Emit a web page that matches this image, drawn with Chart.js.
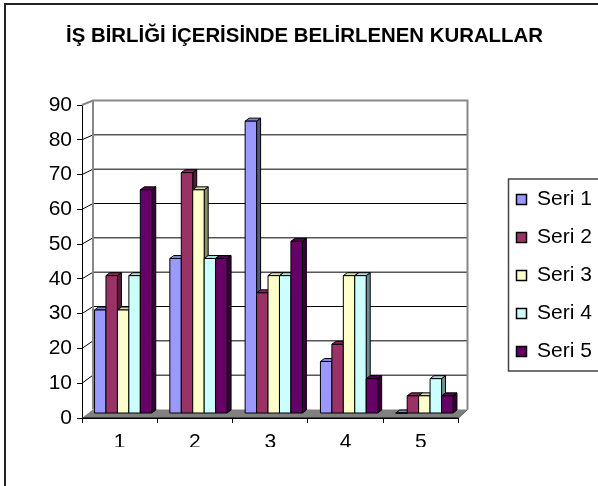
<!DOCTYPE html>
<html>
<head>
<meta charset="utf-8">
<script src="https://cdn.jsdelivr.net/npm/chart.js@4/dist/chart.umd.min.js"></script>
<style>
  body { margin: 0; background: #fff; }
  canvas { display: block; }
</style>
</head>
<body>
<canvas id="rulesChart" width="598" height="486"></canvas>
<script>
    // Chart data
    const categories = ['1', '2', '3', '4', '5'];
    const seriesNames = ['Seri 1', 'Seri 2', 'Seri 3', 'Seri 4', 'Seri 5'];
    const seri1 = [30, 45, 85, 15, 0];
    const seri2 = [40, 70, 35, 20, 5];
    const seri3 = [30, 65, 40, 40, 5];
    const seri4 = [40, 45, 40, 40, 10];
    const seri5 = [65, 45, 50, 10, 5];
    const yMax = 90;
    const yStep = 10;
    const colors = ['#9999FF', '#993366', '#FFFFCC', '#CCFFFF', '#660066'];

    Chart.defaults.font.family = "'Liberation Sans', Arial, sans-serif";
    Chart.defaults.color = '#000';

    // bars stand a little behind the front axis, so they get their own value scale
    const BAR_MIN = -1.456;
    const BAR_MAX = 89.709;
    const BAR_SHIFT = 3.5;   // bar plane offset to the right of the front axis
    const BAR_DX = 4;        // bar depth
    const BAR_DY = 3;
    const WALL_DX = 11;      // back wall offset
    const WALL_DY = 3.5;

    function shade(hex, f) {
        const n = parseInt(hex.slice(1), 16);
        const r = Math.round(((n >> 16) & 255) * f);
        const g = Math.round(((n >> 8) & 255) * f);
        const b = Math.round((n & 255) * f);
        return `rgb(${r},${g},${b})`;
    }

    function poly(ctx, pts, fill, stroke, lw) {
        ctx.beginPath();
        ctx.moveTo(pts[0][0], pts[0][1]);
        for (let i = 1; i < pts.length; i++) ctx.lineTo(pts[i][0], pts[i][1]);
        ctx.closePath();
        if (fill) { ctx.fillStyle = fill; ctx.fill(); }
        if (stroke) { ctx.strokeStyle = stroke; ctx.lineWidth = lw || 1; ctx.stroke(); }
    }

    // back wall, floor and 3D bars
    const box3d = {
        id: 'box3d',
        beforeDatasetsDraw(chart) {
            const ctx = chart.ctx;
            const xs = chart.scales.x;
            const yf = chart.scales.y;
            const yb = chart.scales.yBar;
            const back = v => yb.getPixelForValue(v) - WALL_DY;
            const bl = xs.left + WALL_DX;
            const br = xs.right + 9;

            ctx.save();
            // wall
            ctx.fillStyle = '#fff';
            ctx.fillRect(bl, back(yMax), br - bl, back(0) - back(yMax));
            ctx.lineWidth = 1;
            ctx.strokeStyle = '#000';
            for (let v = yStep; v < yMax; v += yStep) {
                ctx.beginPath();
                ctx.moveTo(xs.left, yf.getPixelForValue(v));
                ctx.lineTo(bl, back(v));
                ctx.lineTo(br, back(v));
                ctx.stroke();
            }
            ctx.strokeStyle = '#888';
            ctx.lineWidth = 2;
            ctx.beginPath();
            ctx.moveTo(xs.left, yf.getPixelForValue(yMax));
            ctx.lineTo(bl, back(yMax));
            ctx.lineTo(br, back(yMax));
            ctx.lineTo(br, back(0));
            ctx.moveTo(bl, back(yMax));
            ctx.lineTo(bl, back(0));
            ctx.stroke();

            // floor
            const f0 = yf.getPixelForValue(0);
            poly(ctx, [[xs.left, f0], [xs.right, f0], [br, back(0)], [bl, back(0)]], '#808080');
            ctx.strokeStyle = '#555';
            ctx.lineWidth = 1;
            ctx.beginPath();
            ctx.moveTo(xs.right, f0);
            ctx.lineTo(br, back(0));
            ctx.stroke();
            ctx.strokeStyle = '#000';
            ctx.beginPath();
            ctx.moveTo(xs.left, f0);
            ctx.lineTo(xs.right, f0);
            ctx.stroke();

            // bars, left to right so each one covers the side of the previous
            ctx.lineJoin = 'round';
            for (let j = 0; j < categories.length; j++) {
                chart.data.datasets.forEach((ds, i) => {
                    const el = chart.getDatasetMeta(i).data[j];
                    const p = el.getProps(['x', 'y', 'base', 'width'], true);
                    const l = p.x - p.width / 2 + BAR_SHIFT;
                    const r = p.x + p.width / 2 + BAR_SHIFT;
                    const t = p.y;
                    const b = p.base;
                    const c = colors[i];
                    poly(ctx, [[r, t], [r + BAR_DX, t - BAR_DY], [r + BAR_DX, b - BAR_DY], [r, b]], shade(c, 0.55), '#000', 1);
                    poly(ctx, [[l, t], [l + BAR_DX, t - BAR_DY], [r + BAR_DX, t - BAR_DY], [r, t]], shade(c, 0.85), '#000', 1);
                    poly(ctx, [[l, t], [r, t], [r, b], [l, b]], c, '#000', 1);
                });
            }
            ctx.restore();
            return false;
        },
        afterDraw(chart) {
            const ctx = chart.ctx;
            const hb = chart.legend.legendHitBoxes;
            ctx.save();
            // legend frame
            const first = hb[0];
            const last = hb[hb.length - 1];
            const top = first.top - 10;
            const bottom = last.top + last.height + 9;
            ctx.strokeStyle = '#444';
            ctx.lineWidth = 1.5;
            ctx.strokeRect(first.left - 8, top, 700, bottom - top);
            // outer frame
            ctx.strokeStyle = '#222';
            ctx.lineWidth = 2;
            ctx.strokeRect(5, 4, 700, 700);
            ctx.restore();
        }
    };

    const rulesCtx = document.getElementById('rulesChart').getContext('2d');
    new Chart(rulesCtx, {
        type: 'bar',
        data: {
            labels: categories,
            datasets: [seri1, seri2, seri3, seri4, seri5].map((d, i) => ({
                label: seriesNames[i],
                data: d,
                backgroundColor: colors[i],
                borderColor: '#000',
                borderWidth: 1.5,
                yAxisID: 'yBar',
                categoryPercentage: 0.76,
                barPercentage: 1.0
            }))
        },
        options: {
            responsive: false,
            animation: false,
            layout: { padding: { left: 12, right: 1, top: 0, bottom: 39 } },
            plugins: {
                title: {
                    display: true,
                    text: 'İŞ BİRLİĞİ İÇERİSİNDE BELİRLENEN KURALLAR',
                    color: '#000',
                    font: { size: 20.4, weight: 'bold', lineHeight: '24px' },
                    padding: { top: 24, bottom: 57 }
                },
                legend: {
                    position: 'right',
                    align: 'start',
                    // empty title only pushes the items down
                    title: { display: true, text: '', font: { size: 10 }, padding: { top: 160, bottom: 0 } },
                    labels: {
                        boxWidth: 10,
                        boxHeight: 10,
                        padding: 17,
                        color: '#000',
                        font: { size: 21 }
                    }
                },
                tooltip: { enabled: false }
            },
            scales: {
                x: {
                    grid: { offset: true, drawOnChartArea: false, tickLength: 5, color: '#000' },
                    border: { color: '#000' },
                    ticks: { padding: 7, color: '#000', font: { size: 21 } },
                    afterFit: s => { s.height = 29; }
                },
                y: {
                    position: 'left',
                    min: 0,
                    max: yMax,
                    grid: { drawOnChartArea: false, tickLength: 5, color: '#000' },
                    border: { color: '#000' },
                    ticks: { stepSize: yStep, padding: 5, color: '#000', font: { size: 21 } },
                    afterFit: s => { s.width = 70; }
                },
                yBar: {
                    position: 'right',
                    min: BAR_MIN,
                    max: BAR_MAX,
                    grid: { display: false },
                    border: { display: false },
                    ticks: { display: false },
                    afterFit: s => { s.width = 41; }
                }
            }
        },
        plugins: [box3d]
    });
</script>
</body>
</html>
